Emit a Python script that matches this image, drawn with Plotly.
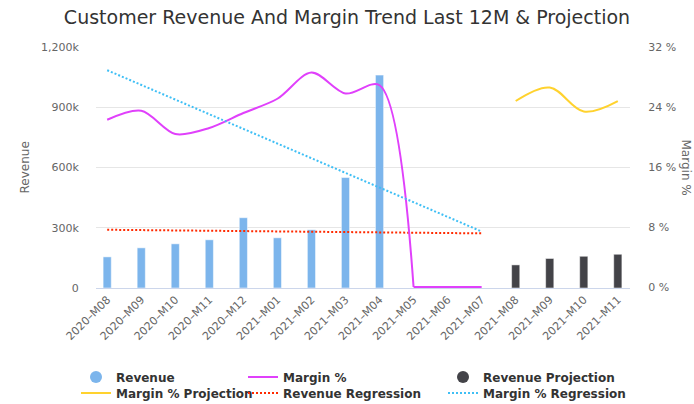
import plotly.graph_objects as go

months = ["2020–M08", "2020–M09", "2020–M10", "2020–M11", "2020–M12", "2021–M01",
          "2021–M02", "2021–M03", "2021–M04", "2021–M05", "2021–M06", "2021–M07",
          "2021–M08", "2021–M09", "2021–M10", "2021–M11"]
hist_months = months[:12]
proj_months = months[12:]

revenue = [155000, 200000, 220000, 240000, 350000, 250000, 290000, 550000, 1060000, None, None, None]
margin_pct = [22.3, 23.5, 20.4, 21.2, 23.2, 25.1, 28.6, 25.8, 26.9, 0, 0, 0]
revenue_proj = [115000, 147000, 158000, 168000]
margin_proj = [24.8, 26.6, 23.4, 24.8]
reg_months = ["2020–M08", "2021–M07"]
revenue_reg = [290000, 272000]
margin_reg = [28.9, 7.4]

y1_ticks = [0, 300000, 600000, 900000, 1200000]
y1_text = ["0", "300k", "600k", "900k", "1,200k"]
y2_ticks = [0, 8, 16, 24, 32]
y2_text = ["0 %", "8 %", "16 %", "24 %", "32 %"]

C_REV = "#7cb5ec"
C_MARGIN = "#e040fb"
C_PROJ = "#434348"
C_MPROJ = "#ffd22e"
C_RREG = "#ff2a00"
C_MREG = "#3fbff5"

FONT = "DejaVu Sans"

fig = go.Figure()

fig.add_trace(go.Bar(x=hist_months, y=revenue, name="Revenue", width=0.24,
                     marker=dict(color=C_REV, line=dict(color="rgba(255,255,255,0.5)", width=1)),
                     showlegend=False, yaxis="y"))
fig.add_trace(go.Bar(x=proj_months, y=revenue_proj, name="Revenue Projection", width=0.24,
                     marker=dict(color=C_PROJ, line=dict(color="rgba(255,255,255,0.5)", width=1)),
                     showlegend=False, yaxis="y"))
# Margin % : smooth part up to the first zero month, then the flat zero tail
split = margin_pct.index(0) + 1
fig.add_trace(go.Scatter(x=hist_months[:split], y=margin_pct[:split], name="Margin %", mode="lines",
                         line=dict(color=C_MARGIN, width=2, shape="spline", smoothing=0.9),
                         yaxis="y2", legend="legend2"))
fig.add_trace(go.Scatter(x=hist_months[split - 1:], y=margin_pct[split - 1:], name="Margin %",
                         mode="lines", line=dict(color=C_MARGIN, width=2),
                         yaxis="y2", showlegend=False))
fig.add_trace(go.Scatter(x=proj_months, y=margin_proj, name="Margin % Projection", mode="lines",
                         line=dict(color=C_MPROJ, width=2, shape="spline", smoothing=1.0),
                         yaxis="y2", legend="legend4"))
fig.add_trace(go.Scatter(x=reg_months, y=revenue_reg, name="Revenue Regression", mode="lines",
                         line=dict(color=C_RREG, width=2, dash="2px,2px"),
                         yaxis="y", legend="legend5"))
fig.add_trace(go.Scatter(x=reg_months, y=margin_reg, name="Margin % Regression", mode="lines",
                         line=dict(color=C_MREG, width=2, dash="2px,2px"),
                         yaxis="y2", legend="legend6"))
# legend proxies with circle symbols for the column series
fig.add_trace(go.Scatter(x=[None], y=[None], name="Revenue", mode="markers",
                         marker=dict(color=C_REV, size=12, symbol="circle"),
                         yaxis="y", legend="legend"))
fig.add_trace(go.Scatter(x=[None], y=[None], name="Revenue Projection", mode="markers",
                         marker=dict(color=C_PROJ, size=12, symbol="circle"),
                         yaxis="y", legend="legend3"))

W, H = 694, 404
L, R, T, B = 96, 64, 47, 116
pw, ph = W - L - R, H - T - B


def px(x):
    return (x - L) / pw


def py(y):
    return (H - B - y) / ph


leg_font = dict(family=FONT, size=12, color="#333333", weight="bold")
row1, row2 = 377, 393
col_text = [116, 283, 483]
legend_specs = {
    "legend": (col_text[0], row1),
    "legend2": (col_text[1], row1),
    "legend3": (col_text[2], row1),
    "legend4": (col_text[0], row2),
    "legend5": (col_text[1], row2),
    "legend6": (col_text[2], row2),
}
legends = {}
for key, (tx, ty) in legend_specs.items():
    legends[key] = dict(x=px(tx - 40), y=py(ty), xanchor="left", yanchor="middle",
                        orientation="v", font=leg_font, bgcolor="rgba(0,0,0,0)",
                        borderwidth=0, itemwidth=30, tracegroupgap=0)

fig.update_layout(
    width=W, height=H,
    margin=dict(l=L, r=R, t=T, b=B, autoexpand=False),
    paper_bgcolor="white", plot_bgcolor="white",
    barmode="overlay",
    title=dict(text="Customer Revenue And Margin Trend Last 12M & Projection",
               x=0.5, xanchor="center", y=1 - 17 / H, yanchor="middle",
               font=dict(family=FONT, size=19, color="#333333")),
    xaxis=dict(type="category", categoryorder="array", categoryarray=months,
               range=[-0.329, 15.358], tickangle=-45,
               tickfont=dict(family=FONT, size=11, color="#666666"),
               showgrid=False, showline=True, linecolor="#ccd6eb", linewidth=1,
               ticks="", zeroline=False, layer="below traces"),
    yaxis=dict(range=[0, 1200000], tickvals=y1_ticks, ticktext=y1_text,
               tickfont=dict(family=FONT, size=11, color="#666666"),
               showgrid=True, gridcolor="#e6e6e6", gridwidth=1, zeroline=False,
               showline=False, ticks="outside", ticklen=14, tickcolor="rgba(0,0,0,0)"),
    yaxis2=dict(range=[-0.13, 32], tickvals=y2_ticks, ticktext=y2_text, overlaying="y", side="right",
                tickfont=dict(family=FONT, size=11, color="#666666"),
                showgrid=False, zeroline=False, showline=False,
                ticks="outside", ticklen=15, tickcolor="rgba(0,0,0,0)"),
    font=dict(family=FONT),
    annotations=[
        dict(text="Revenue", xref="paper", yref="paper", x=px(24), y=0.5, textangle=-90,
             showarrow=False, xanchor="center", yanchor="middle",
             font=dict(family=FONT, size=12, color="#666666")),
        dict(text="Margin %", xref="paper", yref="paper", x=px(686), y=0.5, textangle=90,
             showarrow=False, xanchor="center", yanchor="middle",
             font=dict(family=FONT, size=12, color="#666666")),
    ],
    **legends,
)

fig.write_html("out.html", config={"displayModeBar": False},
               post_script="document.body.style.margin='0';")
